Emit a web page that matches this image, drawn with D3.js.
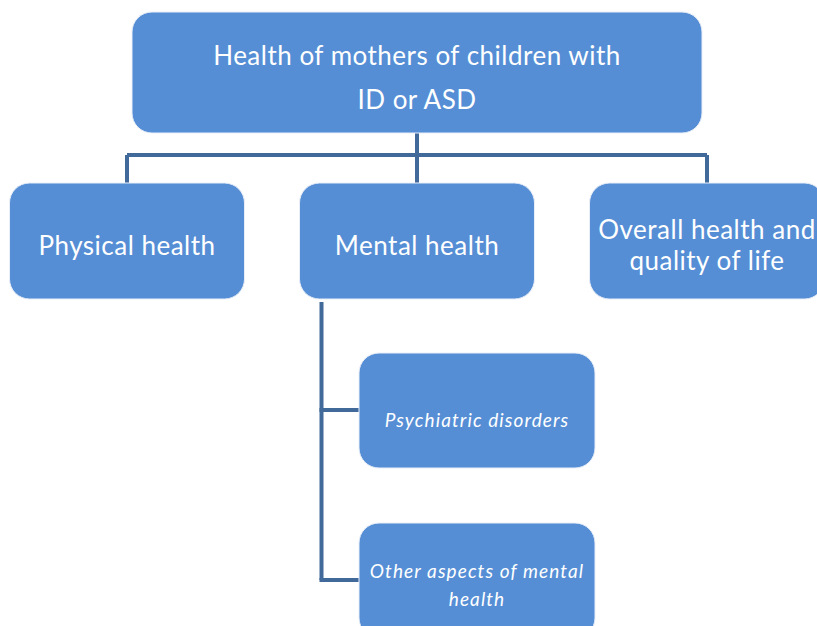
<!DOCTYPE html>
<html lang="en">
<head>
<meta charset="utf-8">
<title>Health of mothers</title>
<style>
  body { margin: 0; background: #fff; }
  .box { fill: #558ed5; stroke: #e8eef8; stroke-width: 1; }
  .link { fill: none; stroke: #41699a; stroke-width: 4; }
  text { fill: #fff; font-family: Lato, "Open Sans", sans-serif; }
</style>
</head>
<body>
<svg id="chart" width="817" height="626"></svg>
<script src="https://d3js.org/d3.v7.min.js"></script>
<script>
// data
var rootLabel = ["Health of mothers of children with", "ID or ASD"];
var branches = ["Physical health", "Mental health", "Overall health and quality of life"];
var branchLines = [["Physical health"], ["Mental health"], ["Overall health and", "quality of life"]];
var subParent = "Mental health";
var subs = ["Psychiatric disorders", "Other aspects of mental health"];
var subLines = [["Psychiatric disorders"], ["Other aspects of mental", "health"]];

var svg = d3.select('#chart');

// layout scales
var x = d3.scalePoint().domain(branches).range([127, 707]);
var ySub = d3.scalePoint().domain(subs).range([410, 580]);

var root = {cx: 417, top: 12, w: 570, h: 121};
var bw = 235, bh = 116, btop = 183;
var sw = 236, sh = 115, sx = 359;
var barY = 155;
var rad = 20;

var links = svg.append('g');
var nodes = svg.append('g');

// root -> bar -> branches
links.append('path').attr('class', 'link')
  .attr('d', 'M' + root.cx + ',' + (root.top + root.h) + 'V' + barY);
links.append('path').attr('class', 'link')
  .attr('d', 'M' + x(branches[0]) + ',' + barY + 'H' + x(branches[branches.length - 1]));
links.selectAll('.drop').data(branches).enter().append('path')
  .attr('class', 'link drop')
  .attr('d', function(d) { return 'M' + x(d) + ',' + barY + 'V' + btop; });

// mental health -> subs
var spineX = x(subParent) - bw / 2 + 22;
links.append('path').attr('class', 'link')
  .attr('d', 'M' + spineX + ',' + (btop + bh + 3) + 'V' + ySub(subs[subs.length - 1]));
links.selectAll('.tick').data(subs).enter().append('path')
  .attr('class', 'link tick')
  .attr('d', function(d) { return 'M' + (spineX - 2) + ',' + ySub(d) + 'H' + sx; });

function addLines(g, lines, cx, cy, size, lh, italic, ls) {
  var t = g.append('text')
    .attr('text-anchor', 'middle')
    .style('font-size', size + 'px')
    .style('letter-spacing', ls + 'px')
    .style('font-style', italic ? 'italic' : 'normal');
  var n = lines.length;
  lines.forEach(function(l, i) {
    t.append('tspan').attr('x', cx)
      .attr('y', cy + (i - (n - 1) / 2) * lh)
      .attr('dy', '0.35em').text(l);
  });
}

// root box
nodes.append('rect').attr('class', 'box')
  .attr('x', root.cx - root.w / 2).attr('y', root.top)
  .attr('width', root.w).attr('height', root.h)
  .attr('rx', rad);
addLines(nodes, rootLabel, root.cx, 78, 26, 44, false, 0.5);

// branch boxes
var gb = nodes.selectAll('g.branch').data(branches).enter().append('g').attr('class', 'branch');
gb.append('rect').attr('class', 'box')
  .attr('x', function(d) { return x(d) - bw / 2; })
  .attr('y', btop).attr('width', bw).attr('height', bh).attr('rx', rad);
gb.each(function(d, i) {
  addLines(d3.select(this), branchLines[i], x(d), btop + bh / 2 + (i === 2 ? 4 : 5), 26, 31, false, 0.5);
});

// sub boxes
var gs = nodes.selectAll('g.sub').data(subs).enter().append('g').attr('class', 'sub');
gs.append('rect').attr('class', 'box')
  .attr('x', sx)
  .attr('y', function(d) { return ySub(d) - 57; })
  .attr('width', sw).attr('height', sh).attr('rx', rad);
gs.each(function(d, i) {
  addLines(d3.select(this), subLines[i], sx + sw / 2, ySub(d) + (i === 0 ? 10 : 5), 19, 28, true, 1.1);
});
</script>
</body>
</html>
